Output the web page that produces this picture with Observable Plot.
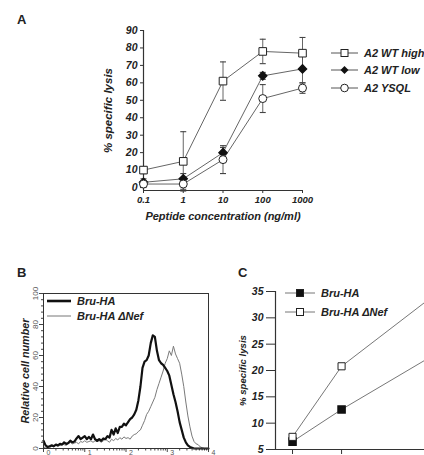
<!DOCTYPE html>
<html>
<head>
<meta charset="utf-8">
<script src="https://cdn.jsdelivr.net/npm/d3@7"></script>
<script src="https://cdn.jsdelivr.net/npm/@observablehq/plot@0.6"></script>
<style>
  html, body { margin: 0; padding: 0; background: #fff; }
  #fig { position: relative; width: 424px; height: 455px; overflow: hidden;
         font-family: "Liberation Sans", Arial, Helvetica, sans-serif; color: #222; }
  .panel { position: absolute; }
  .tag { position: absolute; font-weight: bold; font-size: 13px; line-height: 13px; }
  .lg { position: absolute; display: flex; align-items: center; height: 14px; transform: translateY(-50%);
        font-weight: bold; font-style: italic; font-size: 11px; white-space: nowrap; }
  .lg svg { display: block; margin-right: 6px; overflow: visible; }
</style>
</head>
<body>
<div id="fig"></div>
<script>
// ---------- Panel A: lysis of peptide-pulsed targets ----------
const peptideConc = [0.1, 1, 10, 100, 1000];
const seriesA = ["A2 WT high", "A2 WT low", "A2 YSQL"];
const lysisWtHigh = [10, 15, 61, 78, 77];
const errWtHigh   = [2, 17, 11, 7, 9];
const lysisWtLow  = [3, 5, 20, 64, 68];
const errWtLow    = [2, 3, 3, 2, 8];
const lysisYsql   = [2, 2, 16, 51, 57];
const errYsql     = [2, 3, 8, 8, 3];
const ticksAy = [0, 10, 20, 30, 40, 50, 60, 70, 80, 90];

// ---------- Panel B: HLA-A2 surface staining histograms ----------
const fluorDecade = [
  0.00, 0.05, 0.10, 0.15, 0.20, 0.25, 0.30, 0.35, 0.40, 0.45,
  0.50, 0.55, 0.60, 0.65, 0.70, 0.75, 0.80, 0.85, 0.90, 0.95,
  1.00, 1.05, 1.10, 1.15, 1.20, 1.25, 1.30, 1.35, 1.40, 1.45,
  1.50, 1.55, 1.60, 1.65, 1.70, 1.75, 1.80, 1.85, 1.90, 1.95,
  2.00, 2.05, 2.10, 2.15, 2.20, 2.25, 2.30, 2.35, 2.40, 2.45,
  2.50, 2.55, 2.60, 2.65, 2.70, 2.75, 2.80, 2.85, 2.90, 2.95,
  3.00, 3.05, 3.10, 3.15, 3.20, 3.25, 3.30, 3.35, 3.40, 3.45,
  3.50, 3.55, 3.60, 3.65, 3.70, 3.75, 3.80, 3.85, 3.90, 3.95, 4.00
];
const countBruHA = [
  5, 2, 1, 1.5, 2, 1.5, 2.5, 2, 3, 2.5,
  4, 3, 3.5, 5, 4, 4.5, 6.5, 8, 6, 7,
  8, 6, 7.5, 6, 9, 6, 5, 6, 5, 6.5,
  6, 8, 7, 12, 9, 13, 10, 14, 14, 16,
  15, 17, 19, 20, 22, 25, 31, 40, 52, 56,
  57, 60, 68, 73, 72, 63, 57, 55, 54, 52,
  50, 47, 41, 35, 30, 24, 17, 12, 7, 4,
  2, 1, 0.5, 0, 0, 0, 0, 0, 0, 0, 0
];
const countBruHADNef = [
  1, 0.5, 1, 0.5, 1.5, 1, 2, 1.5, 2, 3,
  2.5, 2, 3, 4, 3, 3.5, 4, 3, 4.5, 4,
  5, 4, 4.5, 5, 4, 5, 4.5, 5, 4, 5,
  6, 5, 4, 6, 5, 6.5, 5.5, 7, 6, 7.5,
  6.5, 7, 6, 8, 9, 9.5, 11, 12, 15, 18,
  22, 24, 27, 30, 33, 38, 42, 46, 50, 55,
  58, 63, 60, 66, 61, 58, 55, 48, 40, 30,
  21, 14, 8, 4.5, 3, 2.5, 1, 0.5, 0, 0, 0
];
const decadesB = [1, 10, 100, 1000, 10000];
const ticksBy = [0, 20, 40, 60, 80, 100];
const minorBy = [4, 8, 12, 16, 24, 28, 32, 36, 44, 48, 52, 56, 64, 68, 72, 76, 84, 88, 92, 96];

// ---------- Panel C: lysis by effector ratio ----------
const effectorRatio = [6.25, 12.5, 25];
const seriesC = ["Bru-HA", "Bru-HA ΔNef"];
const lysisBruHA = [6.5, 12.6, 23.6];
const lysisBruHADNef = [7.4, 20.8, 35.1];
const ticksCy = [5, 10, 15, 20, 25, 30, 35];

// ---------- shared styling ----------
const fontStack = '"Liberation Sans", Arial, Helvetica, sans-serif';
const boldItalic = {fontWeight: "bold", fontStyle: "italic"};
const plotStyle = {fontFamily: fontStack, color: "#222", background: "none", overflow: "visible"};

// horizontal cap used on error bars
const capSymbol = {
  draw(context, size) {
    const w = Math.sqrt(size / Math.PI);
    context.moveTo(-w, 0);
    context.lineTo(w, 0);
  }
};

const fig = document.getElementById("fig");
function place(node, left, top) {
  node.classList.add("panel");
  node.style.left = left + "px";
  node.style.top = top + "px";
  fig.appendChild(node);
}
function tag(text, left, top) {
  const d = document.createElement("div");
  d.className = "tag";
  d.textContent = text;
  d.style.left = left + "px";
  d.style.top = top + "px";
  fig.appendChild(d);
}
// legend key: short line with an optional marker in the middle
function legendRow(left, top, label, key) {
  const d = document.createElement("div");
  d.className = "lg";
  d.style.left = left + "px";
  d.style.top = top + "px";
  const w = key.width, m = w / 2;
  let marker = "";
  if (key.marker === "square") marker = `<rect x="${m - 3.5}" y="3.5" width="7" height="7" fill="${key.fill}" stroke="#222"/>`;
  if (key.marker === "diamond") marker = `<path d="M${m},3 L${m + 4},7 L${m},11 L${m - 4},7 Z" fill="#111"/>`;
  if (key.marker === "circle") marker = `<circle cx="${m}" cy="7" r="3.8" fill="#fff" stroke="#222"/>`;
  d.innerHTML = `<svg width="${w}" height="14"><line x1="0" x2="${w}" y1="7" y2="7" stroke="${key.stroke}" stroke-width="${key.strokeWidth}"/>${marker}</svg><span>${label}</span>`;
  fig.appendChild(d);
}

// ---------- Panel A ----------
const lysisA = [lysisWtHigh, lysisWtLow, lysisYsql];
const errA = [errWtHigh, errWtLow, errYsql];
const rowsA = seriesA.flatMap((s, i) => peptideConc.map((c, j) => ({
  series: s, conc: c, lysis: lysisA[i][j], lo: lysisA[i][j] - errA[i][j], hi: lysisA[i][j] + errA[i][j]
})));
const yFloorA = -1.7;

const plotA = Plot.plot({
  width: 424, height: 230,
  marginLeft: 143, marginRight: 122, marginTop: 30, marginBottom: 40,
  x: {type: "log", domain: [peptideConc[0], peptideConc[peptideConc.length - 1]]},
  y: {domain: [yFloorA, 90]},
  style: plotStyle,
  marks: [
    Plot.ruleX([peptideConc[0]], {stroke: "#333", strokeWidth: 1.2}),
    Plot.ruleY([yFloorA], {stroke: "#333", strokeWidth: 1.2}),
    Plot.axisY(ticksAy, {tickSize: 3, tickPadding: 3, fontSize: 10.5, ...boldItalic, label: null, stroke: "#333"}),
    Plot.axisX(peptideConc, {tickSize: 3, tickPadding: 3, fontSize: 9.5, ...boldItalic, label: null, stroke: "#333",
      tickFormat: d => String(d)}),
    Plot.text(["Peptide concentration (ng/ml)"], {frameAnchor: "bottom", lineAnchor: "middle", textAnchor: "middle", dy: 26, fontSize: 11, ...boldItalic}),
    Plot.text(["% specific lysis"], {frameAnchor: "left", textAnchor: "middle", rotate: -90, dx: -35, fontSize: 11.5, ...boldItalic}),
    Plot.ruleX(rowsA, {x: "conc", y1: "lo", y2: "hi", stroke: "#555", strokeWidth: 0.9}),
    Plot.dot(rowsA, {x: "conc", y: "lo", symbol: capSymbol, r: 3, stroke: "#444", strokeWidth: 1.1}),
    Plot.dot(rowsA, {x: "conc", y: "hi", symbol: capSymbol, r: 3, stroke: "#444", strokeWidth: 1.1}),
    Plot.line(rowsA, {x: "conc", y: "lysis", z: "series", stroke: "#666", strokeWidth: 1}),
    Plot.dot(rowsA.filter(d => d.series === seriesA[0]), {x: "conc", y: "lysis", symbol: "square", r: 4.3, fill: "#fff", stroke: "#222", strokeWidth: 1}),
    Plot.dot(rowsA.filter(d => d.series === seriesA[1]), {x: "conc", y: "lysis", symbol: "diamond2", r: 3.6, fill: "#111", stroke: "#111"}),
    Plot.dot(rowsA.filter(d => d.series === seriesA[2]), {x: "conc", y: "lysis", symbol: "circle", r: 4, fill: "#fff", stroke: "#222", strokeWidth: 1})
  ]
});
place(plotA, 0, 0);
tag("A", 17, 13);
legendRow(331, 53, seriesA[0], {width: 27, stroke: "#555", strokeWidth: 1, marker: "square", fill: "#fff"});
legendRow(331, 70, seriesA[1], {width: 27, stroke: "#555", strokeWidth: 1, marker: "diamond"});
legendRow(331, 88, seriesA[2], {width: 27, stroke: "#555", strokeWidth: 1, marker: "circle"});

// ---------- Panel B ----------
const rowsB = fluorDecade.map((e, i) => ({fl: 10 ** e, bruHA: countBruHA[i], dNef: countBruHADNef[i]}));
const minorBx = decadesB.slice(0, -1).flatMap(d => [2, 3, 4, 5, 6, 7, 8, 9].map(k => k * d));

const plotB = Plot.plot({
  width: 224, height: 185,
  marginLeft: 43, marginRight: 16, marginTop: 13, marginBottom: 17,
  x: {type: "log", domain: [decadesB[0], decadesB[decadesB.length - 1]]},
  y: {domain: [0, 100]},
  style: plotStyle,
  marks: [
    Plot.axisY(minorBy, {tickSize: 2, tickFormat: () => "", stroke: "#444"}),
    Plot.axisY(ticksBy, {tickSize: 4, tickPadding: 2, tickRotate: -90, fontSize: 8, fill: "#555", stroke: "#444", label: null}),
    Plot.axisX(minorBx, {tickSize: 2.5, tickFormat: () => "", stroke: "#444"}),
    Plot.axisX(decadesB, {tickSize: 4, tickFormat: () => "", stroke: "#444", label: null}),
    // decade exponents (superscripts of the 10^k labels)
    Plot.axisX(decadesB, {tickSize: 0, tickPadding: 2, fontSize: 7, fill: "#555", label: null, dx: 5, tickFormat: d => String(Math.round(Math.log10(d)))}),
    Plot.text(["Relative cell number"], {frameAnchor: "left", textAnchor: "middle", rotate: -90, dx: -18, fontSize: 10.8, ...boldItalic}),
    Plot.line(rowsB, {x: "fl", y: "dNef", stroke: "#7a7a7a", strokeWidth: 1}),
    Plot.line(rowsB, {x: "fl", y: "bruHA", stroke: "#111", strokeWidth: 2.2}),
    Plot.frame({stroke: "#333", strokeWidth: 1})
  ]
});
place(plotB, 0, 280);
tag("B", 17, 266);
legendRow(47, 301, seriesC[0], {width: 24, stroke: "#111", strokeWidth: 2.6});
legendRow(47, 316, seriesC[1], {width: 24, stroke: "#777", strokeWidth: 1});

// ---------- Panel C ----------
const lysisC = [lysisBruHA, lysisBruHADNef];
const rowsC = seriesC.flatMap((s, i) => effectorRatio.map((r, j) => ({series: s, ratio: r, lysis: lysisC[i][j]})));
const xDomainC = [4.08, 26];

const plotC = Plot.plot({
  width: 257, height: 215,
  marginLeft: 75, marginRight: 10, marginTop: 21, marginBottom: 36,
  x: {domain: xDomainC},
  y: {domain: [ticksCy[0], ticksCy[ticksCy.length - 1]]},
  style: plotStyle,
  marks: [
    Plot.ruleX([xDomainC[0]], {stroke: "#333", strokeWidth: 1.2}),
    Plot.ruleY([ticksCy[0]], {stroke: "#333", strokeWidth: 1.2}),
    Plot.axisY(ticksCy, {tickSize: 9, tickPadding: 3, fontSize: 10.5, ...boldItalic, label: null, stroke: "#333"}),
    Plot.axisX(effectorRatio, {tickSize: 5, tickFormat: () => "", label: null, stroke: "#333"}),
    Plot.text(["% specific lysis"], {frameAnchor: "left", textAnchor: "middle", rotate: -90, dx: -33, fontSize: 9.6, ...boldItalic}),
    Plot.line(rowsC, {x: "ratio", y: "lysis", z: "series", stroke: "#777", strokeWidth: 1}),
    Plot.dot(rowsC.filter(d => d.series === seriesC[0]), {x: "ratio", y: "lysis", symbol: "square", r: 4, fill: "#111", stroke: "#111"}),
    Plot.dot(rowsC.filter(d => d.series === seriesC[1]), {x: "ratio", y: "lysis", symbol: "square", r: 4, fill: "#fff", stroke: "#222", strokeWidth: 1})
  ]
});
place(plotC, 200, 270);
tag("C", 238, 266);
legendRow(285, 293, seriesC[0], {width: 30, stroke: "#777", strokeWidth: 1, marker: "square", fill: "#111"});
legendRow(285, 312, seriesC[1], {width: 30, stroke: "#777", strokeWidth: 1, marker: "square", fill: "#fff"});
</script>
</body>
</html>
